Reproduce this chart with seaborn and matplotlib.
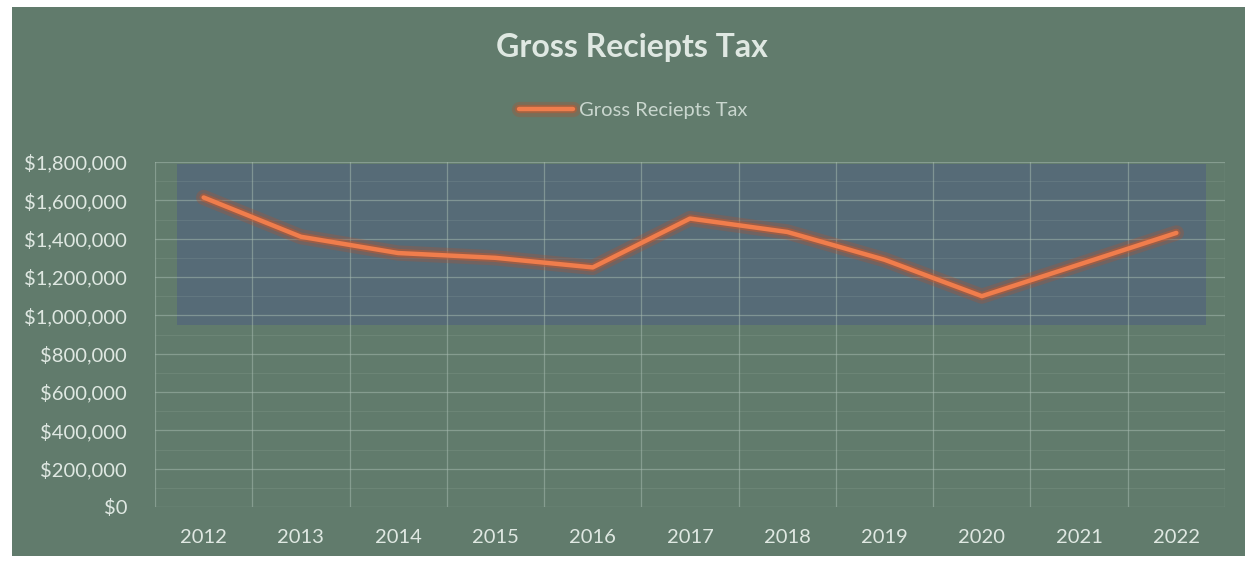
import matplotlib
matplotlib.use("Agg")
import matplotlib.pyplot as plt
import matplotlib.patheffects as pe
from matplotlib.patches import Rectangle
from matplotlib.ticker import FuncFormatter, MultipleLocator
import pandas as pd
import seaborn as sns

# Gross receipts tax collections by year
years = ["2012", "2013", "2014", "2015", "2016", "2017",
         "2018", "2019", "2020", "2021", "2022"]
gross_receipts = [1615000, 1410000, 1325000, 1300000, 1250000, 1505000,
                  1435000, 1290000, 1100000, 1265000, 1430000]
y_ticks = [0, 200000, 400000, 600000, 800000, 1000000,
           1200000, 1400000, 1600000, 1800000]

df = pd.DataFrame({"Year": years, "Gross Reciepts Tax": gross_receipts})
df["pos"] = range(len(years))

BG = "#617b6c"
BAND = "#55697a"
TEXT = "#dfe8e2"
GRID = "#a9bdb2"
LINE = "#f07d4c"

sns.set_theme(style="white")
plt.rcParams["font.family"] = ["Lato", "DejaVu Sans"]

fig = plt.figure(figsize=(12.51, 5.63), dpi=100, facecolor="white")
# chart panel background with the thin light margin around it
fig.patches.append(Rectangle((12 / 1251, 7 / 563), 1233 / 1251, 549 / 563,
                             transform=fig.transFigure, facecolor=BG,
                             edgecolor="none", zorder=-10))

ax = fig.add_axes([155 / 1251, 1 - 507 / 563, 1070 / 1251, 345 / 563])
ax.set_facecolor("none")

# shaded band behind the upper part of the plot
ax.fill_between([-0.27, 10.3], 950000, 1790000, color=BAND, alpha=0.85,
                linewidth=0, zorder=0.5)

# grid
for v in y_ticks:
    ax.axhline(v, color=GRID, linewidth=0.9, alpha=0.5, zorder=1)
ax.yaxis.set_minor_locator(MultipleLocator(100000))
ax.grid(which="minor", axis="y", color=GRID, linewidth=0.6, alpha=0.18)
for b in range(len(years) + 1):
    ax.axvline(b - 0.5, color=GRID, linewidth=0.9, alpha=0.5, zorder=1)

sns.lineplot(data=df, x="pos", y="Gross Reciepts Tax", ax=ax, color=LINE,
             linewidth=3.2, label="Gross Reciepts Tax", zorder=3,
             path_effects=[pe.Stroke(linewidth=11, foreground="#b0522f", alpha=0.3),
                           pe.Stroke(linewidth=6, foreground="#c4592f", alpha=0.5),
                           pe.Normal()])

ax.set_xlim(-0.5, len(years) - 0.5)
ax.set_ylim(0, 1800000)
ax.set_xticks(df["pos"])
ax.set_xticklabels(years)
ax.set_yticks(y_ticks)
ax.yaxis.set_major_formatter(FuncFormatter(lambda v, _: f"${v:,.0f}"))
ax.tick_params(axis="x", colors=TEXT, labelsize=14.5, pad=16, length=0)
ax.tick_params(axis="y", colors=TEXT, labelsize=14.5, pad=20, length=0)
ax.set_xlabel("")
ax.set_ylabel("")
for s in ax.spines.values():
    s.set_visible(False)

fig.text(0.505, 1 - 48 / 563, "Gross Reciepts Tax", ha="center", va="center",
         fontsize=23, fontweight="bold", color=TEXT)

leg = ax.legend(loc="center", bbox_to_anchor=(0.506, 1 - 110 / 563),
                bbox_transform=fig.transFigure, frameon=False, fontsize=14.5,
                handlelength=2.7, handletextpad=0.25)
for t in leg.get_texts():
    t.set_color("#c9d6ce")

fig.savefig("out.png", dpi=100, facecolor="white")
